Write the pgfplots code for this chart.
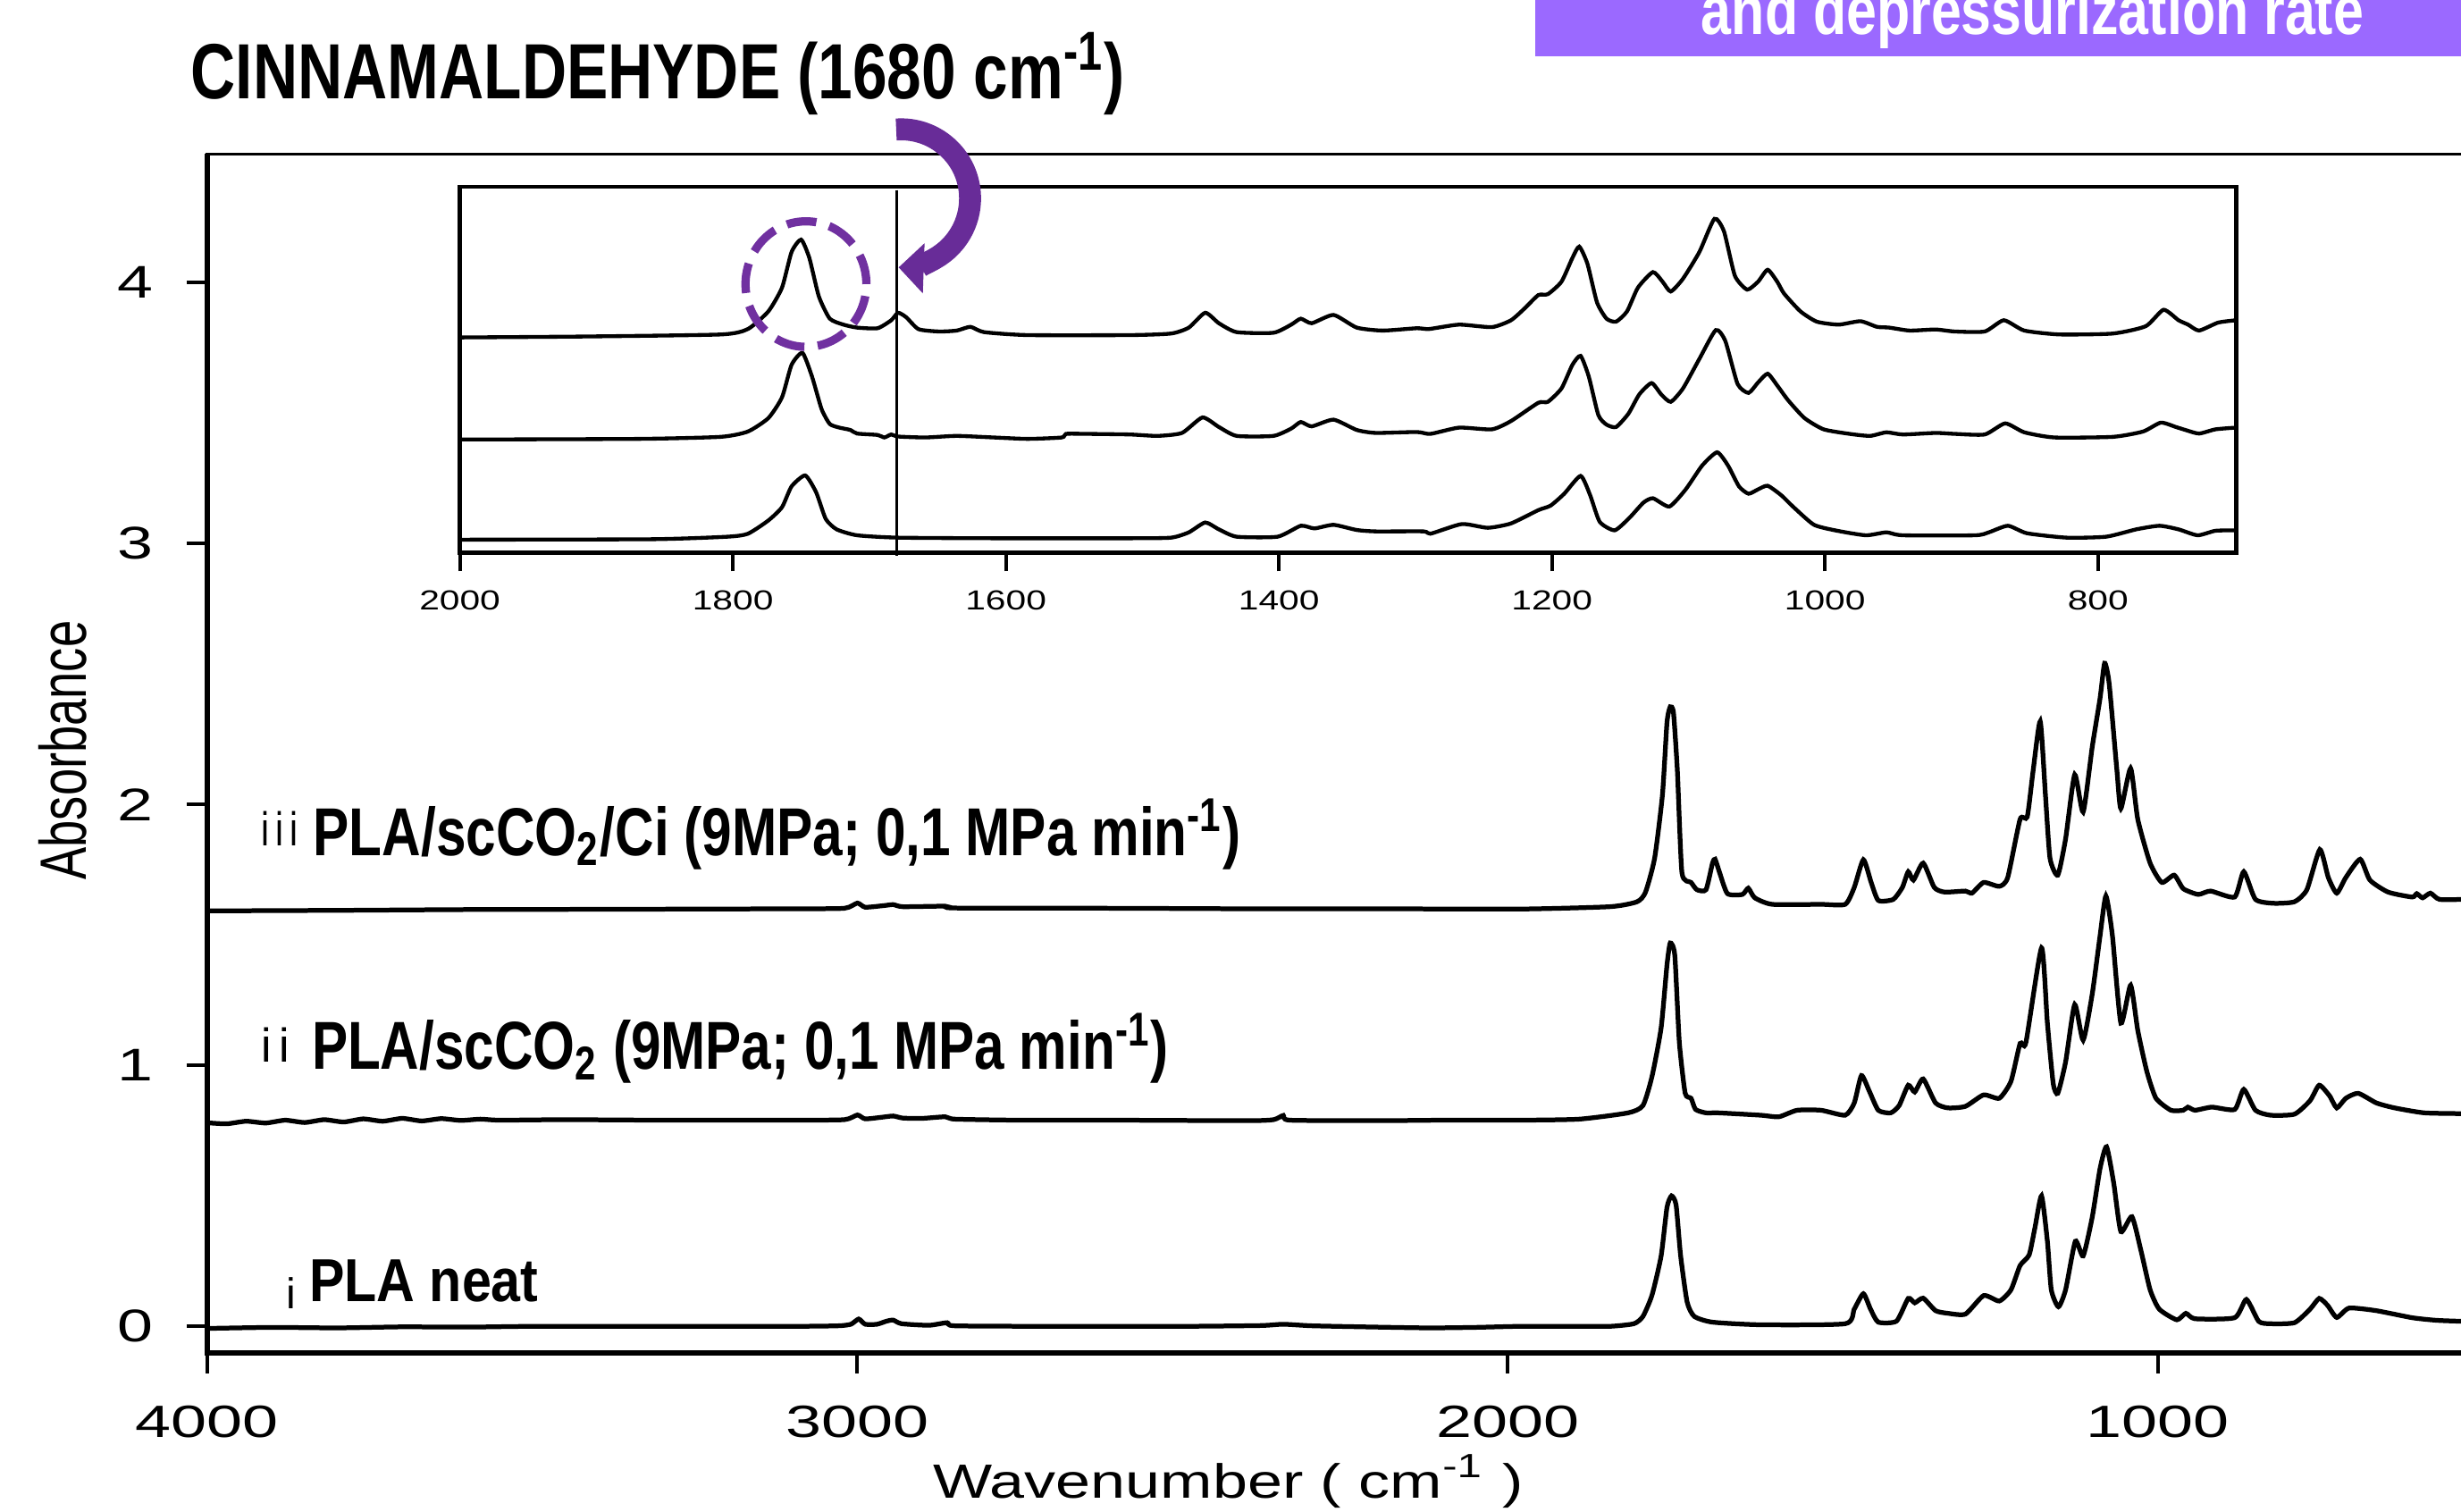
\documentclass[border=0pt]{standalone}
\usepackage{pgfplots}
\pgfplotsset{compat=1.18}
\usepackage{graphicx}
\usepackage{fontspec}
\setmainfont{Liberation Sans}
\usetikzlibrary{arrows.meta}
\definecolor{arrowpurple}{RGB}{104,44,152}
\definecolor{circpurple}{RGB}{112,48,160}
\definecolor{bannerpurple}{RGB}{155,105,255}

\begin{document}
\begin{tikzpicture}
% ---------------- main axis ----------------
\begin{axis}[
  at={(0cm,0cm)}, anchor=south west,
  scale only axis, width=14.6cm, height=7.64cm,
  x dir=reverse, xmin=476, xmax=4000, ymin=-0.102, ymax=4.493,
  axis line style={line width=0.5pt},
  xtick={4000,3000,2000,1000},
  xticklabels={\scalebox{1.42}[1]{4000},\scalebox{1.42}[1]{3000},\scalebox{1.42}[1]{2000},\scalebox{1.42}[1]{1000}},
  ytick={0,1,2,3,4},
  yticklabels={\scalebox{1.4}[1]{0},\scalebox{1.4}[1]{1},\scalebox{1.4}[1]{2},\scalebox{1.4}[1]{3},\scalebox{1.4}[1]{4}},
  tick pos=left, tick align=outside,
  major tick length=0.13cm,
  every tick/.style={line width=0.65pt, black},
  xticklabel style={font=\fontsize{8.2}{8.2}\selectfont, yshift=-0.08cm},
  yticklabel style={font=\fontsize{8.3}{8.3}\selectfont, xshift=-0.09cm},
  clip mode=individual,
]
% i PLA neat
\addplot[black, line width=0.85pt, smooth, tension=0.35, no marks] table {
4000 -0.008
3900 -0.004
3800 -0.006
3700 -0.002
3600 -0.003
3500 0.0
3300 0.0
3100 0.0
3030 0.002
3010 0.008
2998 0.028
2988 0.008
2970 0.008
2955 0.02
2945 0.024
2932 0.01
2890 0.004
2862 0.014
2850 0.002
2700 0.0
2500 0.0
2380 0.003
2345 0.008
2300 0.002
2200 -0.003
2120 -0.006
2050 -0.004
1982 0.0
1900 0.0
1843 0.0
1806 0.01
1792 0.038
1778 0.12
1764 0.27
1755 0.456
1748 0.50
1741 0.465
1734 0.27
1724 0.093
1713 0.038
1685 0.016
1611 0.006
1481 0.01
1467 0.066
1453 0.125
1442 0.066
1430 0.016
1402 0.02
1384 0.107
1374 0.09
1361 0.108
1342 0.06
1323 0.05
1296 0.047
1268 0.118
1244 0.097
1226 0.14
1212 0.233
1198 0.274
1189 0.38
1179 0.50
1170 0.326
1164 0.14
1153 0.075
1142 0.14
1127 0.326
1115 0.27
1101 0.419
1089 0.605
1079 0.688
1068 0.549
1057 0.363
1040 0.42
1026 0.289
1012 0.14
998 0.066
971 0.025
957 0.05
943 0.029
882 0.033
864 0.103
845 0.019
827 0.01
790 0.014
766 0.066
752 0.107
739 0.08
725 0.034
706 0.07
664 0.06
609 0.033
571 0.023
527 0.019
476 0.018
};
% ii PLA/scCO2
\addplot[black, line width=0.85pt, smooth, tension=0.35, no marks] table {
4000 0.78
3970 0.776
3940 0.786
3910 0.779
3880 0.79
3850 0.781
3820 0.792
3790 0.783
3760 0.795
3730 0.786
3700 0.797
3670 0.787
3640 0.796
3610 0.789
3580 0.794
3550 0.79
3450 0.792
3300 0.79
3100 0.79
3020 0.792
3000 0.81
2988 0.795
2960 0.802
2945 0.806
2930 0.798
2900 0.797
2865 0.803
2850 0.794
2750 0.79
2600 0.79
2400 0.788
2360 0.792
2345 0.808
2335 0.79
2200 0.788
2100 0.79
1982 0.79
1890 0.794
1815 0.818
1792 0.846
1778 0.958
1764 1.144
1755 1.385
1750 1.469
1743 1.422
1736 1.088
1727 0.893
1718 0.874
1711 0.831
1695 0.818
1676 0.818
1611 0.809
1583 0.803
1555 0.828
1518 0.828
1481 0.809
1467 0.856
1456 0.961
1444 0.902
1430 0.828
1411 0.818
1398 0.846
1384 0.924
1374 0.898
1361 0.948
1342 0.856
1323 0.837
1296 0.843
1268 0.887
1244 0.874
1226 0.939
1212 1.084
1203 1.088
1179 1.45
1170 1.162
1161 0.93
1154 0.893
1142 1.013
1128 1.233
1115 1.097
1101 1.274
1089 1.497
1080 1.649
1070 1.497
1057 1.162
1042 1.307
1031 1.134
1017 0.976
1003 0.874
980 0.828
961 0.828
954 0.84
943 0.828
917 0.84
882 0.831
868 0.908
850 0.828
827 0.809
790 0.813
766 0.865
752 0.924
736 0.883
725 0.837
711 0.874
692 0.893
664 0.856
636 0.837
590 0.818
527 0.815
476 0.815
};
% iii PLA/scCO2/Ci
\addplot[black, line width=0.85pt, smooth, tension=0.35, no marks] table {
4000 1.592
3800 1.594
3600 1.597
3400 1.598
3100 1.6
3020 1.602
3000 1.622
2988 1.606
2960 1.612
2945 1.616
2930 1.608
2865 1.61
2850 1.603
2600 1.602
2400 1.6
2200 1.6
1982 1.599
1843 1.608
1801 1.627
1788 1.664
1774 1.794
1762 2.036
1755 2.314
1750 2.374
1745 2.351
1739 2.128
1732 1.738
1718 1.701
1709 1.673
1695 1.673
1685 1.775
1681 1.79
1674 1.738
1662 1.658
1639 1.655
1630 1.679
1620 1.642
1593 1.617
1518 1.617
1481 1.617
1467 1.682
1453 1.788
1441 1.701
1430 1.632
1407 1.636
1393 1.682
1384 1.742
1376 1.71
1361 1.775
1344 1.682
1328 1.664
1296 1.668
1286 1.66
1268 1.701
1244 1.686
1231 1.72
1212 1.943
1201 1.952
1192 2.128
1181 2.318
1173 2.036
1166 1.794
1154 1.729
1142 1.868
1128 2.114
1115 1.971
1101 2.221
1089 2.407
1082 2.541
1075 2.463
1063 2.128
1057 1.984
1042 2.138
1031 1.943
1012 1.775
994 1.701
975 1.729
961 1.677
938 1.655
919 1.668
882 1.645
868 1.742
850 1.636
822 1.621
790 1.627
771 1.673
751 1.827
738 1.72
725 1.66
711 1.72
689 1.79
674 1.71
646 1.664
609 1.645
602 1.658
593 1.642
581 1.66
567 1.636
527 1.636
476 1.636
};
\end{axis}
% thick left and bottom spines
\draw[line width=0.9pt] (0,7.64) -- (0,0) -- (14.6,0);

% ---------------- inset axis ----------------
\begin{scope}[shift={(1.61cm,5.10cm)}]
\begin{axis}[
  at={(0cm,0cm)}, anchor=south west,
  scale only axis, width=11.32cm, height=2.33cm,
  x dir=reverse, xmin=698.5, xmax=2000, ymin=0, ymax=234,
  axis line style={line width=0.8pt},
  axis background/.style={fill=white},
  xtick={2000,1800,1600,1400,1200,1000,800},
  xticklabels={\scalebox{1.32}[1]{2000},\scalebox{1.32}[1]{1800},\scalebox{1.32}[1]{1600},\scalebox{1.32}[1]{1400},\scalebox{1.32}[1]{1200},\scalebox{1.32}[1]{1000},\scalebox{1.32}[1]{800}},
  ytick=\empty,
  tick pos=left, tick align=outside,
  major tick length=0.12cm,
  every tick/.style={line width=0.65pt, black},
  xticklabel style={font=\fontsize{5}{5}\selectfont},
  clip mode=individual,
]
\addplot[black, line width=0.7pt, smooth, tension=0.35, no marks] table {
1999.5 137.6
1909 138.2
1809 139.5
1789 143
1774 154.3
1764 169.5
1757 192.3
1750 200.2
1744 188.5
1737 163.8
1729 149.6
1719 145.8
1709 143.9
1694 143.5
1684 148.6
1679 153.4
1673 150.5
1664 142.9
1649 141.4
1636 142
1626 144.4
1616 141
1584 139.1
1509 139.1
1479 140.1
1466 143.9
1454 153.4
1444 146.7
1431 141
1404 140.6
1391 145.8
1384 149.6
1376 146.7
1360 152
1343 143.9
1324 142
1299 143.5
1290 143
1268 145.8
1244 144.2
1230 148.6
1220 156.2
1210 164.7
1203 165.3
1193 173.3
1185 188.5
1180 195.7
1174 184.7
1167 160
1160 149.6
1153 147.7
1145 154.3
1137 169.5
1126 179.4
1119 173.3
1113 167
1104 175.2
1092 192.3
1081 213.5
1074 205.5
1066 177.1
1057 168.2
1049 173.3
1042 180.9
1035 173.3
1030 165.7
1018 154.3
1006 147.7
990 145.8
974 148
962 144.4
953 143.9
938 142
919 142.7
905 141.4
883 141.4
869 148.6
854 142
828 139.5
789 140.1
765 144.8
752 155.3
741 148.6
734 145.8
726 142
712 147.1
699 148.6
};
\addplot[black, line width=0.7pt, smooth, tension=0.35, no marks] table {
1999.5 72.3
1869 72.7
1809 74
1789 77.4
1774 86
1764 99.3
1757 120.1
1749 127.7
1742 112.5
1735 91.7
1729 82.2
1722 79.9
1714 78.4
1709 76.1
1694 75.2
1689 73.6
1684 75.5
1679 74.2
1659 73.6
1636 74.6
1609 73.6
1584 72.7
1559 73.6
1556 75.9
1541 75.9
1509 75.5
1489 74.6
1471 76.5
1456 86.4
1444 80.3
1431 74.6
1404 74.6
1391 79.3
1384 83.5
1376 80.7
1360 85
1343 78.4
1329 76.5
1299 77.1
1289 75.9
1268 79.9
1244 78.8
1230 84.1
1210 95.8
1203 96.4
1193 105
1185 120.1
1179 125.8
1173 112.5
1166 87.9
1160 81.8
1153 80.3
1144 88.8
1136 101.2
1127 108.4
1120 101.2
1113 96.4
1104 105
1092 123.9
1080 142.3
1073 135.3
1064 107.8
1056 102.1
1049 108.8
1042 114.4
1035 106.9
1027 97.4
1015 86
1001 78.8
982 75.9
967 74.6
955 76.9
943 75.5
919 76.5
905 75.9
883 75.5
868 82.6
854 76.9
832 73.6
789 74
767 77.4
754 83.1
743 80.3
736 78.4
726 76.1
714 78.8
699 79.9
};
\addplot[black, line width=0.7pt, smooth, tension=0.35, no marks] table {
1999.5 8.2
1859 8.5
1804 10.1
1789 12
1774 20.5
1764 29
1757 42.3
1747 49.3
1739 38.5
1732 21.5
1724 14.8
1709 11
1679 9.5
1609 9.1
1509 9.1
1479 9.5
1466 12.9
1454 19.2
1444 14.8
1431 10.1
1401 10.1
1384 17.1
1374 15.4
1360 17.7
1343 14.4
1329 13.5
1294 13.5
1289 12
1266 18.2
1247 15.8
1230 18.6
1210 27.1
1201 30
1191 37.6
1179 49
1172 36.6
1165 19.6
1154 14.2
1143 22.4
1133 31.9
1126 34.7
1114 29.4
1102 40.4
1090 55.6
1079 64.1
1071 55.6
1063 42.3
1056 37.6
1049 40.4
1042 42.7
1032 36.6
1023 29
1008 17.7
991 13.9
970 11
955 12.9
943 11
890 11
880 12.9
866 17.1
852 12.3
823 9.5
794 10.1
772 14.8
755 17.1
741 14.8
727 11
714 13.9
699 14.2
};
\draw[line width=0.55pt] (axis cs:1680,232) -- (axis cs:1680,-2);
\end{axis}
\end{scope}

% dashed circle around 1750 peak
\draw[circpurple, line width=1.5pt, dash pattern=on 0.19cm off 0.085cm] (3.815,6.81) ellipse [x radius=0.385cm, y radius=0.40cm];

% curved arrow
\draw[arrowpurple, line width=0.14cm, -{Triangle[width=0.31cm,length=0.16cm]}] (4.39,7.795) arc[start angle=94, end angle=-92, radius=0.44cm];

% banner
\fill[bannerpurple] (8.46,8.26) rectangle (14.4,8.7);
\begin{scope}
\clip (8.46,8.26) rectangle (14.36,8.62);
\node[anchor=base, inner sep=0pt, text=white] at (11.63,8.402) {\resizebox{4.22cm}{\height}{\fontsize{12.5}{12.5}\selectfont\bfseries and depressurization rate}};
\end{scope}

% title
\node[anchor=base west, inner sep=0pt] at (-0.11,7.99) {\resizebox{5.95cm}{\height}{\fontsize{14.2}{14}\selectfont\bfseries CINNAMALDEHYDE (1680 cm\textsuperscript{-1})}};

% series labels
\node[anchor=base west, inner sep=0pt] at (0.34,3.23) {\resizebox{0.23cm}{\height}{\fontsize{8.6}{8.6}\selectfont i\,i\,i}};
\node[anchor=base west, inner sep=0pt] at (0.67,3.17) {\resizebox{5.91cm}{\height}{\fontsize{12.3}{12.3}\selectfont\bfseries PLA/scCO\textsubscript{2}/Ci (9MPa; 0,1 MPa min\textsuperscript{-1})}};
\node[anchor=base west, inner sep=0pt] at (0.337,1.856) {\resizebox{0.18cm}{\height}{\fontsize{8.6}{8.6}\selectfont i\,i}};
\node[anchor=base west, inner sep=0pt] at (0.66,1.805) {\resizebox{5.46cm}{\height}{\fontsize{12.3}{12.3}\selectfont\bfseries PLA/scCO\textsubscript{2} (9MPa; 0,1 MPa min\textsuperscript{-1})}};
\node[anchor=base west, inner sep=0pt] at (0.50,0.28) {\fontsize{7.8}{7.8}\selectfont i};
\node[anchor=base west, inner sep=0pt] at (0.644,0.326) {\resizebox{1.46cm}{\height}{\fontsize{11}{11}\selectfont\bfseries PLA neat}};

% axis labels
\node[anchor=base, inner sep=0pt] at (6.506,-0.926) {\resizebox{3.76cm}{\height}{\fontsize{8.7}{8.7}\selectfont Wavenumber ( cm\textsuperscript{-1} )}};
\node[anchor=base, inner sep=0pt, rotate=90] at (-0.77,3.84) {\resizebox{1.65cm}{\height}{\fontsize{11.9}{11.9}\selectfont Absorbance}};

\pgfresetboundingbox
\useasboundingbox (-1.32,-1.01) rectangle (14.36,8.62);
\end{tikzpicture}
\end{document}
